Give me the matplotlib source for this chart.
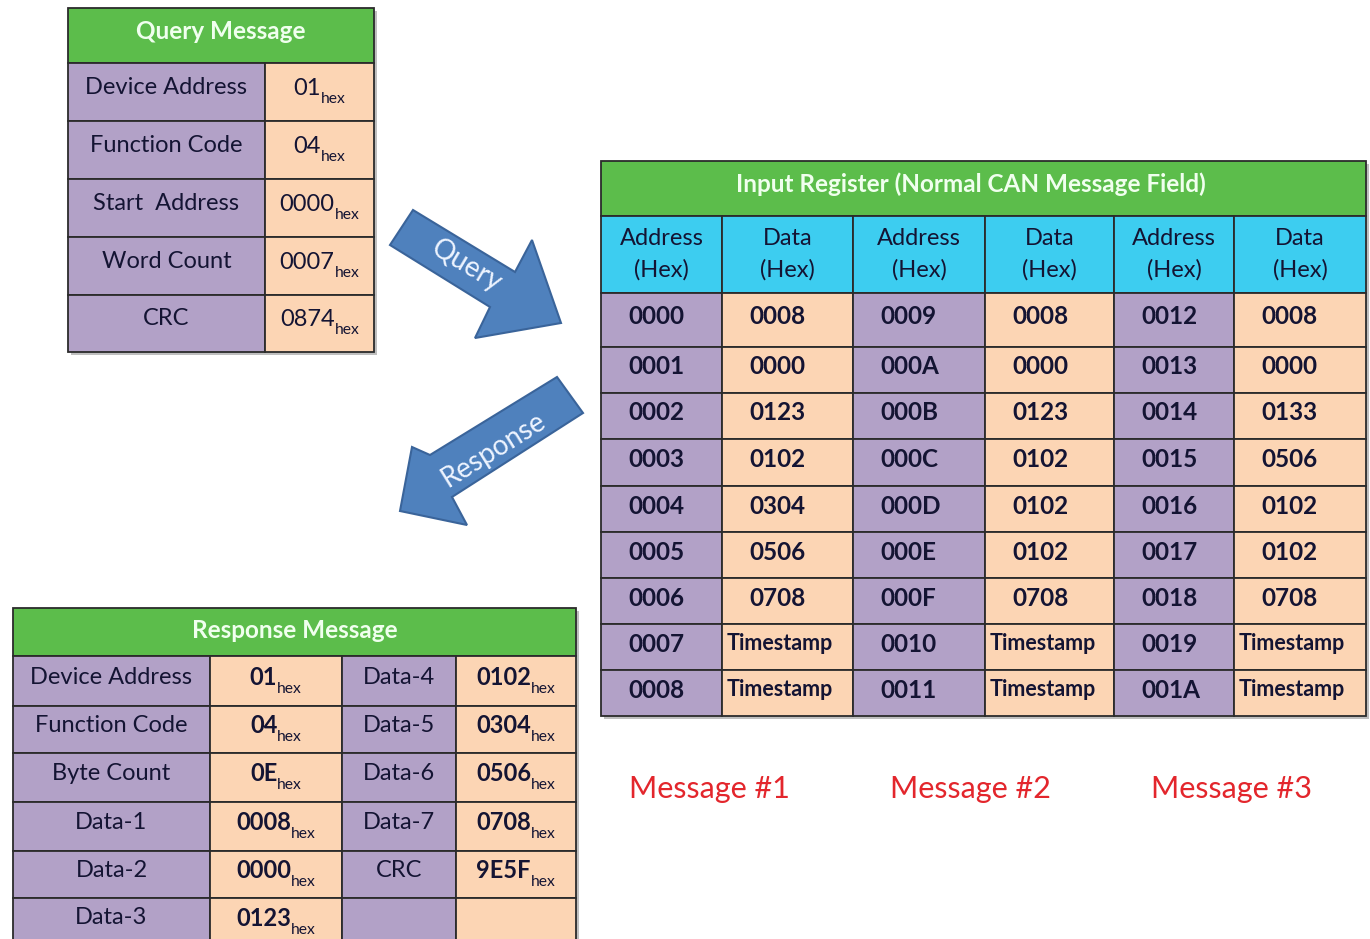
import matplotlib
matplotlib.use("Agg")
import matplotlib.pyplot as plt
from matplotlib.patches import Rectangle, Polygon

plt.rcParams['font.family'] = ['Lato', 'DejaVu Sans']

# ---------------- data ----------------
query_title = "Query Message"
query_labels = ["Device Address", "Function Code", "Start  Address", "Word Count", "CRC"]
query_values = ["01", "04", "0000", "0007", "0874"]

reg_title = "Input Register (Normal CAN Message Field)"
reg_headers = ["Address\n(Hex)", "Data\n(Hex)"] * 3
reg_addr_1 = ["0000", "0001", "0002", "0003", "0004", "0005", "0006", "0007", "0008"]
reg_data_1 = ["0008", "0000", "0123", "0102", "0304", "0506", "0708", "Timestamp", "Timestamp"]
reg_addr_2 = ["0009", "000A", "000B", "000C", "000D", "000E", "000F", "0010", "0011"]
reg_data_2 = ["0008", "0000", "0123", "0102", "0102", "0102", "0708", "Timestamp", "Timestamp"]
reg_addr_3 = ["0012", "0013", "0014", "0015", "0016", "0017", "0018", "0019", "001A"]
reg_data_3 = ["0008", "0000", "0133", "0506", "0102", "0102", "0708", "Timestamp", "Timestamp"]
message_labels = ["Message #1", "Message #2", "Message #3"]

resp_title = "Response Message"
resp_labels_a = ["Device Address", "Function Code", "Byte Count", "Data-1", "Data-2", "Data-3"]
resp_values_a = ["01", "04", "0E", "0008", "0000", "0123"]
resp_labels_b = ["Data-4", "Data-5", "Data-6", "Data-7", "CRC", ""]
resp_values_b = ["0102", "0304", "0506", "0708", "9E5F", ""]
sub_text = "hex"

# ---------------- style ----------------
GREEN = "#5CBD4B"
PURPLE = "#B2A1C7"
PEACH = "#FCD5B4"
CYAN = "#3DCDF0"
EDGE = "#2b2b2b"
TXT = "#141433"
RED = "#E3262C"
BLUE = "#4F81BD"
BLUE_EDGE = "#3A649A"
HEAD_TXT = "#F0FFEE"

LABEL_FS = 17
TITLE_FS = 17.5
VALUE_FS = 17.5

fig = plt.figure(figsize=(13.7, 9.39), dpi=100)
ax = fig.add_axes([0, 0, 1, 1])
ax.set_xlim(0, 1370)
ax.set_ylim(939, 0)
ax.axis("off")
renderer = fig.canvas.get_renderer()


def cell(x0, y0, x1, y1, color, lw=1.3):
    ax.add_patch(Rectangle((x0, y0), x1 - x0, y1 - y0, facecolor=color,
                           edgecolor=EDGE, linewidth=lw, zorder=1))


def shadow(x0, y0, x1, y1):
    ax.add_patch(Rectangle((x0 + 3, y0 + 3), x1 - x0, y1 - y0, facecolor="#bfbfbf",
                           edgecolor="none", zorder=0))


def text_width(t):
    return t.get_window_extent(renderer=renderer).width


def val_sub(xc, yc, main, sub, size, bold):
    if main == "":
        return
    w = "bold" if bold else "normal"
    t1 = ax.text(0, 0, main, fontsize=size, weight=w, color=TXT, ha="left", va="baseline", zorder=3)
    t2 = ax.text(0, 0, sub, fontsize=size * 0.66, color=TXT, ha="left", va="baseline", zorder=3)
    w1 = text_width(t1)
    w2 = text_width(t2)
    x0 = xc - (w1 + w2) / 2
    base = yc + size * 0.45
    t1.set_position((x0, base))
    t2.set_position((x0 + w1, base + size * 0.48))


# ---------------- query table ----------------
qx = [68, 265, 374]
qy = [8, 63, 121, 179, 237, 295, 352]
shadow(qx[0], qy[0], qx[-1], qy[-1])
cell(qx[0], qy[0], qx[-1], qy[1], GREEN)
ax.text((qx[0] + qx[-1]) / 2, (qy[0] + qy[1]) / 2 - 4, query_title, fontsize=TITLE_FS, weight="bold",
        color=HEAD_TXT, ha="center", va="center", zorder=3)
for i, (lab, val) in enumerate(zip(query_labels, query_values)):
    y0, y1 = qy[i + 1], qy[i + 2]
    cell(qx[0], y0, qx[1], y1, PURPLE)
    cell(qx[1], y0, qx[2], y1, PEACH)
    ax.text((qx[0] + qx[1]) / 2, (y0 + y1) / 2 - 5, lab, fontsize=LABEL_FS, color=TXT,
            ha="center", va="center", zorder=3)
    val_sub((qx[1] + qx[2]) / 2, (y0 + y1) / 2 - 5, val, sub_text, LABEL_FS, False)

# ---------------- input register table ----------------
rx = [601, 722, 853, 985, 1114, 1234, 1366]
ry = [161, 216, 293, 347, 393, 439, 486, 532, 578, 624, 670, 716]
shadow(rx[0], ry[0], rx[-1], ry[-1])
cell(rx[0], ry[0], rx[-1], ry[1], GREEN)
ax.text((rx[0] + rx[-1]) / 2 - 13, (ry[0] + ry[1]) / 2 - 4, reg_title, fontsize=TITLE_FS, weight="bold",
        color=HEAD_TXT, ha="center", va="center", zorder=3)
for j, h in enumerate(reg_headers):
    cell(rx[j], ry[1], rx[j + 1], ry[2], CYAN)
    ax.text((rx[j] + rx[j + 1]) / 2, (ry[1] + ry[2]) / 2, h, fontsize=LABEL_FS, color=TXT,
            ha="center", va="center", linespacing=1.6, zorder=3)
cols = [reg_addr_1, reg_data_1, reg_addr_2, reg_data_2, reg_addr_3, reg_data_3]
for j, col in enumerate(cols):
    color = PURPLE if j % 2 == 0 else PEACH
    for i, v in enumerate(col):
        y0, y1 = ry[i + 2], ry[i + 3]
        cell(rx[j], y0, rx[j + 1], y1, color)
        if v == "Timestamp":
            ax.text(rx[j] + 5, (y0 + y1) / 2 - 3, v, fontsize=15.5, weight="bold",
                    color=TXT, ha="left", va="center", zorder=3)
        else:
            ax.text(rx[j] + 27, (y0 + y1) / 2 - 3, v, fontsize=VALUE_FS, weight="bold",
                    color=TXT, ha="left", va="center", zorder=3)

message_x = [709, 970, 1232]
for xc, m in zip(message_x, message_labels):
    ax.text(xc, 789, m, fontsize=22, color=RED, ha="center", va="center", zorder=3)

# ---------------- response table ----------------
px = [13, 210, 342, 456, 576]
py = [608, 656, 706, 753, 802, 851, 898, 946]
shadow(px[0], py[0], px[-1], py[-1])
cell(px[0], py[0], px[-1], py[1], GREEN)
ax.text((px[0] + px[-1]) / 2, (py[0] + py[1]) / 2 - 2, resp_title, fontsize=TITLE_FS, weight="bold",
        color=HEAD_TXT, ha="center", va="center", zorder=3)
for i in range(len(resp_labels_a)):
    y0, y1 = py[i + 1], py[i + 2]
    cell(px[0], y0, px[1], y1, PURPLE)
    cell(px[1], y0, px[2], y1, PEACH)
    cell(px[2], y0, px[3], y1, PURPLE)
    cell(px[3], y0, px[4], y1, PEACH)
    yc = (y0 + y1) / 2 - 4
    ax.text((px[0] + px[1]) / 2, yc, resp_labels_a[i], fontsize=LABEL_FS, color=TXT,
            ha="center", va="center", zorder=3)
    val_sub((px[1] + px[2]) / 2, yc, resp_values_a[i], sub_text, LABEL_FS, True)
    if resp_labels_b[i]:
        ax.text((px[2] + px[3]) / 2, yc, resp_labels_b[i], fontsize=LABEL_FS, color=TXT,
                ha="center", va="center", zorder=3)
    val_sub((px[3] + px[4]) / 2, yc, resp_values_b[i], sub_text, LABEL_FS, True)

# ---------------- arrows ----------------
query_arrow = [(413, 210), (515, 272), (532, 240), (561, 323), (475, 338), (490, 307), (390, 245)]
resp_arrow = [(557, 377), (583, 413), (452, 497), (467, 525), (400, 511), (412, 447), (430, 455)]
ax.add_patch(Polygon(query_arrow, closed=True, facecolor=BLUE, edgecolor=BLUE_EDGE,
                     linewidth=1.5, zorder=2))
ax.add_patch(Polygon(resp_arrow, closed=True, facecolor=BLUE, edgecolor=BLUE_EDGE,
                     linewidth=1.5, zorder=2))
ax.text(466, 266, "Query", fontsize=20, color="#EEF4FF", rotation=-31,
        ha="center", va="center", rotation_mode="anchor", zorder=3)
ax.text(494, 450, "Response", fontsize=20, color="#EEF4FF", rotation=32,
        ha="center", va="center", rotation_mode="anchor", zorder=3)

fig.savefig("out.png", dpi=100, facecolor="white")
